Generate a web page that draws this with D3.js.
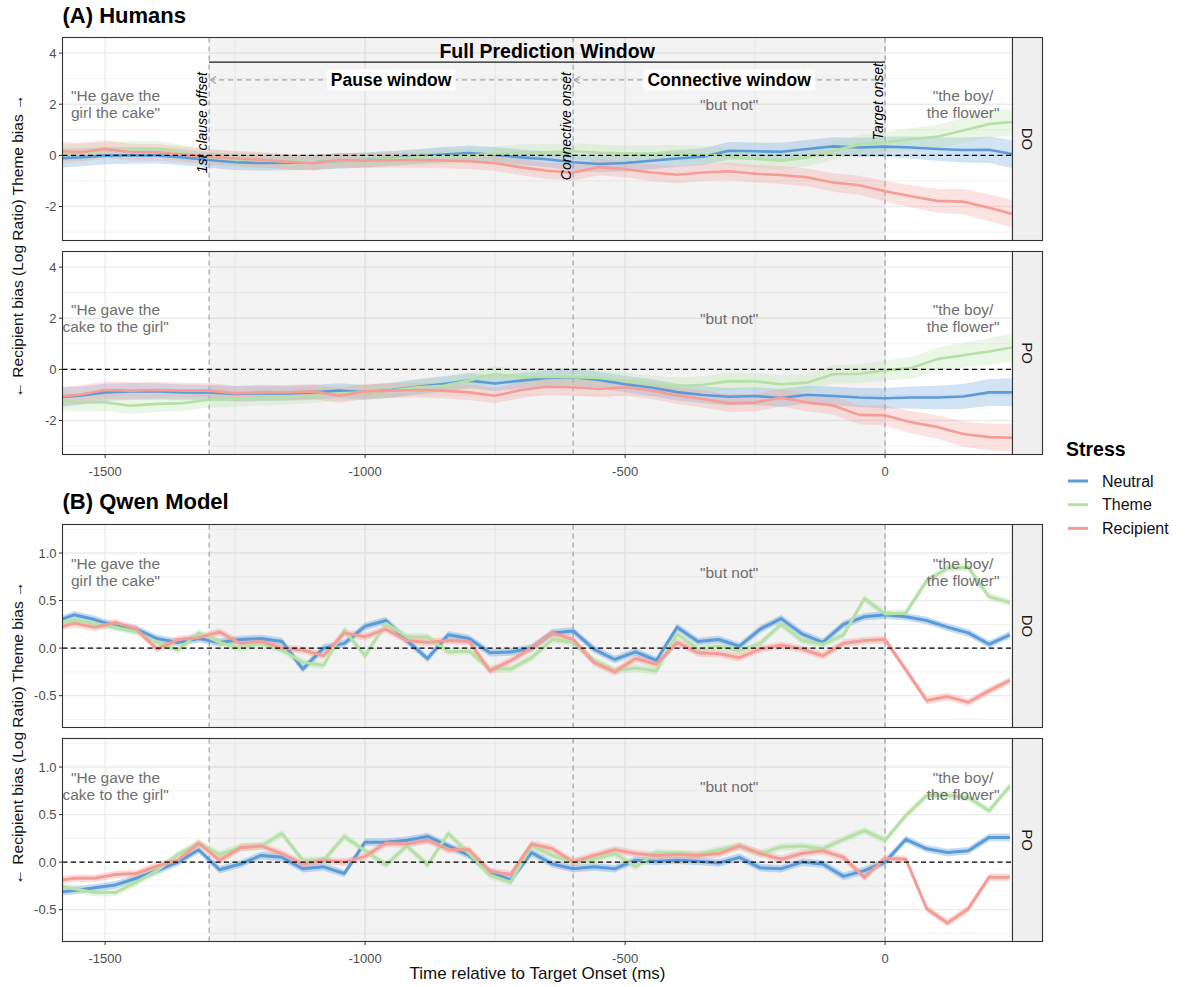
<!DOCTYPE html>
<html>
<head>
<meta charset="utf-8">
<script src="https://cdn.jsdelivr.net/npm/d3@7"></script>
<style>
  body { margin: 0; background: #fff; }
  text { font-family: "Liberation Sans", Arial, Helvetica, sans-serif; }
</style>
</head>
<body>
<svg id="chart" width="1186" height="987"></svg>
<script>
"use strict"

// ---- data ----
const stressLevels = ["Neutral", "Theme", "Recipient"];
const stressColors = ["#5B9BD9", "#B5E0A6", "#F59C95"];

const humanTime = [-1600,-1550,-1500,-1450,-1400,-1350,-1300,-1250,-1200,-1150,-1100,-1050,-1000,-950,-900,-850,-800,-750,-700,-650,
  -600,-550,-500,-450,-400,-350,-300,-250,-200,-150,-100,-50,0,50,100,150,200,250];

const humanDO_neutral = [-0.12,-0.08,-0.01,0.00,0.00,-0.08,-0.18,-0.27,-0.30,-0.29,-0.27,-0.22,-0.18,-0.12,-0.05,0.03,0.09,0.02,-0.08,-0.15,
  -0.27,-0.34,-0.30,-0.21,-0.12,-0.05,0.18,0.16,0.14,0.25,0.35,0.31,0.34,0.31,0.25,0.21,0.22,0.03];
const humanDO_theme = [0.03,0.10,0.18,0.22,0.25,0.10,-0.08,-0.15,-0.20,-0.24,-0.27,-0.22,-0.18,-0.13,-0.08,-0.04,-0.01,0.06,0.12,0.12,
  0.16,0.10,0.07,0.07,0.08,0.04,-0.05,-0.13,-0.21,-0.08,0.18,0.42,0.51,0.64,0.73,0.97,1.23,1.31];
const humanDO_recipient = [0.18,0.12,0.25,0.12,0.12,0.03,-0.05,-0.12,-0.17,-0.25,-0.31,-0.18,-0.20,-0.19,-0.18,-0.20,-0.23,-0.31,-0.47,-0.60,
  -0.67,-0.46,-0.54,-0.67,-0.76,-0.67,-0.62,-0.72,-0.77,-0.86,-1.06,-1.17,-1.40,-1.60,-1.78,-1.81,-2.05,-2.32];

const humanPO_neutral = [-1.10,-1.03,-0.90,-0.86,-0.86,-0.90,-0.90,-0.96,-0.94,-0.94,-0.90,-0.83,-0.90,-0.81,-0.68,-0.57,-0.44,-0.55,-0.44,-0.34,
  -0.31,-0.41,-0.58,-0.71,-0.89,-1.00,-1.07,-1.04,-1.12,-0.99,-1.04,-1.10,-1.13,-1.10,-1.10,-1.06,-0.90,-0.90];
const humanPO_theme = [-1.20,-1.29,-1.29,-1.42,-1.35,-1.32,-1.19,-1.16,-1.12,-1.09,-1.03,-0.94,-0.90,-0.83,-0.70,-0.64,-0.44,-0.18,-0.31,-0.29,
  -0.31,-0.34,-0.44,-0.57,-0.65,-0.60,-0.46,-0.47,-0.58,-0.52,-0.19,-0.17,-0.04,0.05,0.40,0.55,0.70,0.88];
const humanPO_recipient = [-1.08,-0.99,-0.81,-0.83,-0.81,-0.83,-0.83,-0.94,-0.90,-0.90,-0.86,-1.03,-0.86,-0.83,-0.81,-0.83,-0.90,-1.03,-0.81,-0.68,
  -0.70,-0.77,-0.70,-0.83,-1.02,-1.16,-1.33,-1.30,-1.10,-1.30,-1.41,-1.78,-1.80,-2.07,-2.25,-2.53,-2.65,-2.68];

// half width of the human confidence band
const ciHuman = [0.38,0.36,0.34,0.33,0.32,0.31,0.30,0.30,0.30,0.29,0.29,0.29,0.29,0.29,0.29,0.30,0.30,0.30,0.31,0.31,
  0.32,0.32,0.32,0.33,0.33,0.33,0.34,0.34,0.35,0.35,0.36,0.37,0.40,0.43,0.46,0.49,0.52,0.55];

const modelTime = [-1600,-1560,-1520,-1480,-1440,-1400,-1360,-1320,-1280,-1240,-1200,-1160,-1120,-1080,-1040,-1000,-960,-920,-880,-840,
  -800,-760,-720,-680,-640,-600,-560,-520,-480,-440,-400,-360,-320,-280,-240,-200,-160,-120,-80,-40,0,40,80,120,160,200,240];

const modelDO_neutral = [0.27,0.35,0.30,0.23,0.20,0.10,0.06,0.10,0.06,0.09,0.10,0.07,-0.22,0.00,0.05,0.23,0.29,0.08,-0.11,0.14,
  0.10,-0.05,-0.04,0.00,0.16,0.18,-0.01,-0.12,-0.04,-0.13,0.22,0.07,0.09,0.02,0.20,0.31,0.15,0.06,0.25,0.33,0.35,0.33,0.29,0.22,0.16,0.04,0.14];
const modelDO_theme = [0.25,0.29,0.26,0.22,0.17,0.06,-0.02,0.16,0.06,0.00,0.05,-0.02,-0.15,-0.18,0.19,-0.08,0.26,0.12,0.12,-0.04,
  -0.03,-0.22,-0.22,-0.10,0.09,0.06,-0.13,-0.24,-0.21,-0.24,0.15,-0.01,0.02,-0.03,0.05,0.25,0.08,0.04,0.14,0.52,0.36,0.37,0.71,0.84,0.85,0.54,0.48];
const modelDO_recipient = [0.20,0.26,0.22,0.27,0.20,-0.01,0.09,0.11,0.17,0.05,0.07,0.00,-0.02,-0.08,0.16,0.12,0.20,0.08,0.06,0.08,
  0.07,-0.24,-0.13,0.00,0.16,0.09,-0.15,-0.25,-0.11,-0.17,0.06,-0.05,-0.06,-0.10,-0.01,0.03,-0.01,-0.08,0.05,0.08,0.09,-0.23,-0.55,-0.51,-0.57,-0.45,-0.34];

const modelPO_neutral = [-0.32,-0.30,-0.27,-0.24,-0.17,-0.09,0.00,0.13,-0.08,-0.02,0.07,0.05,-0.07,-0.05,-0.12,0.21,0.21,0.23,0.27,0.17,
  0.07,-0.10,-0.19,0.10,-0.02,-0.07,-0.05,-0.07,0.02,0.01,0.02,0.01,-0.01,0.05,-0.06,-0.07,0.00,-0.02,-0.15,-0.09,0.00,0.24,0.14,0.10,0.12,0.26,0.26];
const modelPO_theme = [-0.24,-0.28,-0.32,-0.32,-0.21,-0.09,0.08,0.20,0.08,0.16,0.17,0.30,0.02,0.02,0.27,0.12,-0.03,0.17,-0.03,0.30,
  0.09,-0.14,-0.21,0.17,0.07,0.00,0.03,0.09,-0.05,0.10,0.09,0.08,0.13,0.17,0.09,0.16,0.17,0.14,0.24,0.33,0.23,0.49,0.70,0.70,0.68,0.54,0.80];
const modelPO_recipient = [-0.20,-0.17,-0.17,-0.13,-0.12,-0.04,0.02,0.20,0.02,0.15,0.17,0.09,-0.02,0.02,0.00,0.06,0.20,0.19,0.23,0.13,
  0.13,-0.10,-0.13,0.19,0.14,0.00,0.07,0.13,0.09,0.07,0.08,0.07,0.09,0.17,0.09,0.03,0.09,0.12,0.05,-0.16,0.04,0.03,-0.49,-0.64,-0.49,-0.16,-0.16];

const ciModel = 0.04;

const xTicks = [-1500, -1000, -500, 0];
const xMinor = [-1250, -750, -250];
const yTicksHuman = [-2, 0, 2, 4];
const yMinorHuman = [-3, -1, 1, 3];
const yTicksModel = [-0.5, 0, 0.5, 1.0];
const yMinorModel = [-0.75, -0.25, 0.25, 0.75, 1.25];

const eventTimes = [-1300, -600, 0];
const eventLabels = ["1st clause offset", "Connective onset", "Target onset"];
const sentenceStartDO = ["\"He gave the", "girl the cake\""];
const sentenceStartPO = ["\"He gave the", "cake to the girl\""];
const sentenceMid = ["\"but not\""];
const sentenceEnd = ["\"the boy/", "the flower\""];

// ---- layout ----
const svg = d3.select("#chart");
const panelLeft = 62.5, panelRight = 1012.5, stripW = 30, panelH = 203;

const x = d3.scaleLinear().domain([-1582, 245]).range([panelLeft, panelRight]);

const panels = [
  { id: "aDO", cons: "DO", top: 37.5, dom: [-3.33, 4.61], time: humanTime, ci: ciHuman,
    series: [humanDO_neutral, humanDO_theme, humanDO_recipient], ticks: yTicksHuman, minor: yMinorHuman,
    textY: 2, start: sentenceStartDO, header: true, xaxis: false, lw: 2.6 },
  { id: "aPO", cons: "PO", top: 251.5, dom: [-3.33, 4.61], time: humanTime, ci: ciHuman,
    series: [humanPO_neutral, humanPO_theme, humanPO_recipient], ticks: yTicksHuman, minor: yMinorHuman,
    textY: 2, start: sentenceStartPO, header: false, xaxis: true, lw: 2.6 },
  { id: "bDO", cons: "DO", top: 524.5, dom: [-0.835, 1.30], time: modelTime, ci: null,
    series: [modelDO_neutral, modelDO_theme, modelDO_recipient], ticks: yTicksModel, minor: yMinorModel,
    textY: 0.8, start: sentenceStartDO, header: false, xaxis: false, lw: 3 },
  { id: "bPO", cons: "PO", top: 738.5, dom: [-0.835, 1.30], time: modelTime, ci: null,
    series: [modelPO_neutral, modelPO_theme, modelPO_recipient], ticks: yTicksModel, minor: yMinorModel,
    textY: 0.8, start: sentenceStartPO, header: false, xaxis: true, lw: 3 }
];

function fmtTick(v, model) {
  return model ? v.toFixed(1) : String(v);
}

function drawPanel(p) {
  let y = d3.scaleLinear().domain(p.dom).range([p.top + panelH, p.top]);
  let model = p.ci === null;
  let g = svg.append("g");

  g.append("clipPath").attr("id", "clip-" + p.id)
    .append("rect").attr("x", panelLeft).attr("y", p.top)
    .attr("width", panelRight - panelLeft).attr("height", panelH);

  g.append("rect").attr("x", panelLeft).attr("y", p.top)
    .attr("width", panelRight - panelLeft).attr("height", panelH).attr("fill", "#fff");

  let inner = g.append("g").attr("clip-path", "url(#clip-" + p.id + ")");

  // grid
  inner.selectAll(".ymin").data(p.minor).join("line")
    .attr("x1", panelLeft).attr("x2", panelRight).attr("y1", d => y(d)).attr("y2", d => y(d))
    .attr("stroke", "#ebebeb").attr("stroke-width", 0.7);
  inner.selectAll(".xmin").data(xMinor).join("line")
    .attr("x1", d => x(d)).attr("x2", d => x(d)).attr("y1", p.top).attr("y2", p.top + panelH)
    .attr("stroke", "#ebebeb").attr("stroke-width", 0.7);
  inner.selectAll(".ymaj").data(p.ticks).join("line")
    .attr("x1", panelLeft).attr("x2", panelRight).attr("y1", d => y(d)).attr("y2", d => y(d))
    .attr("stroke", "#ebebeb").attr("stroke-width", 1.3);
  inner.selectAll(".xmaj").data(xTicks).join("line")
    .attr("x1", d => x(d)).attr("x2", d => x(d)).attr("y1", p.top).attr("y2", p.top + panelH)
    .attr("stroke", "#ebebeb").attr("stroke-width", 1.3);

  // prediction window shading
  inner.append("rect").attr("x", x(-1300)).attr("y", p.top)
    .attr("width", x(0) - x(-1300)).attr("height", panelH)
    .attr("fill", "#7f7f7f").attr("fill-opacity", 0.09);

  inner.selectAll(".ev").data(eventTimes).join("line")
    .attr("x1", d => x(d)).attr("x2", d => x(d)).attr("y1", p.top).attr("y2", p.top + panelH)
    .attr("stroke", "#9a9a9a").attr("stroke-width", 1.1).attr("stroke-dasharray", "5,4");

  // ribbons and lines
  p.series.forEach(function(vals, i) {
    let pts = p.time.map((t, k) => ({ t: t, v: vals[k], c: model ? ciModel : p.ci[k] }));
    let area = d3.area().x(d => x(d.t)).y0(d => y(d.v - d.c)).y1(d => y(d.v + d.c));
    inner.append("path").attr("d", area(pts))
      .attr("fill", stressColors[i]).attr("fill-opacity", model ? 0.35 : 0.28);
  });
  p.series.forEach(function(vals, i) {
    let pts = p.time.map((t, k) => ({ t: t, v: vals[k] }));
    let line = d3.line().x(d => x(d.t)).y(d => y(d.v));
    inner.append("path").attr("d", line(pts))
      .attr("fill", "none").attr("stroke", stressColors[i])
      .attr("stroke-width", p.lw).attr("stroke-linejoin", "round");
  });

  inner.append("line").attr("x1", panelLeft).attr("x2", panelRight)
    .attr("y1", y(0)).attr("y2", y(0))
    .attr("stroke", "#000").attr("stroke-width", 1.3).attr("stroke-dasharray", "5,3.5");

  // sentence fragments
  function block(lines, t) {
    let tx = g.append("text").attr("x", x(t)).attr("text-anchor", "middle")
      .attr("fill", "#6f6f6f").style("font-size", "15.5px");
    let n = lines.length;
    lines.forEach(function(s, k) {
      tx.append("tspan").attr("x", x(t))
        .attr("y", y(p.textY) + (k - (n - 1) / 2) * 16.5)
        .attr("dominant-baseline", "central").text(s);
    });
  }
  block(p.start, -1480);
  block(sentenceMid, -300);
  block(sentenceEnd, 150);

  if (p.header) drawHeader(g, y);

  // border + strip
  g.append("rect").attr("x", panelLeft).attr("y", p.top)
    .attr("width", panelRight - panelLeft).attr("height", panelH)
    .attr("fill", "none").attr("stroke", "#333").attr("stroke-width", 1.1);
  g.append("rect").attr("x", panelRight).attr("y", p.top)
    .attr("width", stripW).attr("height", panelH)
    .attr("fill", "#f0f0f0").attr("stroke", "#333").attr("stroke-width", 1.1);
  g.append("text")
    .attr("transform", "translate(" + (panelRight + stripW / 2) + "," + (p.top + panelH / 2) + ") rotate(90)")
    .attr("text-anchor", "middle").attr("dominant-baseline", "central")
    .attr("fill", "#1a1a1a").style("font-size", "15px").text(p.cons);

  // y axis
  g.selectAll(".yt").data(p.ticks).join("line")
    .attr("x1", panelLeft - 3.5).attr("x2", panelLeft).attr("y1", d => y(d)).attr("y2", d => y(d))
    .attr("stroke", "#333").attr("stroke-width", 1);
  g.selectAll(".yl").data(p.ticks).join("text")
    .attr("x", panelLeft - 6).attr("y", d => y(d)).attr("text-anchor", "end")
    .attr("dominant-baseline", "central").attr("fill", "#4d4d4d").style("font-size", "13px")
    .text(d => fmtTick(d, model));

  if (p.xaxis) {
    let bottom = p.top + panelH;
    g.selectAll(".xt").data(xTicks).join("line")
      .attr("x1", d => x(d)).attr("x2", d => x(d)).attr("y1", bottom).attr("y2", bottom + 3.5)
      .attr("stroke", "#333").attr("stroke-width", 1);
    g.selectAll(".xl").data(xTicks).join("text")
      .attr("x", d => x(d)).attr("y", bottom + 21.5).attr("text-anchor", "middle")
      .attr("fill", "#4d4d4d").style("font-size", "13px").text(d => String(d));
  }
}

function drawHeader(g, y) {
  let yFull = y(3.65), yArrow = y(2.95);

  g.append("line").attr("x1", x(-1300)).attr("x2", x(0)).attr("y1", yFull).attr("y2", yFull)
    .attr("stroke", "#1a1a1a").attr("stroke-width", 1.3);
  g.append("text").attr("x", x(-650)).attr("y", yFull - 4).attr("text-anchor", "middle")
    .style("font-size", "19.5px").style("font-weight", "bold").attr("fill", "#000")
    .text("Full Prediction Window");

  let windows = [[-1300, -600, "Pause window"], [-600, 0, "Connective window"]];
  windows.forEach(function(w) {
    let x0 = x(w[0]) + 1, x1 = x(w[1]) - 1;
    g.append("line").attr("x1", x0).attr("x2", x1).attr("y1", yArrow).attr("y2", yArrow)
      .attr("stroke", "#a6a6a6").attr("stroke-width", 1.2).attr("stroke-dasharray", "5,4");
    g.append("path").attr("d", "M" + (x0 + 6) + "," + (yArrow - 3.5) + "L" + x0 + "," + yArrow + "L" + (x0 + 6) + "," + (yArrow + 3.5))
      .attr("fill", "none").attr("stroke", "#a6a6a6").attr("stroke-width", 1.2);
    let cx = (x(w[0]) + x(w[1])) / 2;
    let lab = g.append("g");
    let box = lab.append("rect").attr("fill", "#fff").attr("rx", 3);
    let t = lab.append("text").attr("x", cx).attr("y", yArrow).attr("text-anchor", "middle")
      .attr("dominant-baseline", "central").style("font-size", "17.5px").style("font-weight", "bold")
      .attr("fill", "#000").text(w[2]);
    let bb = t.node().getBBox();
    box.attr("x", bb.x - 4).attr("y", yArrow - 10.5).attr("width", bb.width + 8).attr("height", 21);
  });

  let tops = [72, 72, 63];
  eventTimes.forEach(function(t, i) {
    g.append("text")
      .attr("transform", "translate(" + (x(t) - 2.5) + "," + tops[i] + ") rotate(-90)")
      .attr("text-anchor", "end").style("font-size", "14px").style("font-style", "italic")
      .attr("fill", "#000").text(eventLabels[i]);
  });
}

panels.forEach(drawPanel);

// section titles
svg.append("text").attr("x", panelLeft).attr("y", 23).style("font-size", "22px")
  .style("font-weight", "bold").text("(A) Humans");
svg.append("text").attr("x", panelLeft).attr("y", 509).style("font-size", "22px")
  .style("font-weight", "bold").text("(B) Qwen Model");

// axis titles
let yTitle = "\u2190 Recipient bias (Log Ratio) Theme bias \u2192";
[246, 733].forEach(function(cy) {
  svg.append("text").attr("transform", "translate(17," + cy + ") rotate(-90)")
    .attr("text-anchor", "middle").attr("dominant-baseline", "central")
    .style("font-size", "15.5px").attr("fill", "#111").text(yTitle);
});
svg.append("text").attr("x", (panelLeft + panelRight) / 2).attr("y", 979)
  .attr("text-anchor", "middle").style("font-size", "17px").attr("fill", "#111")
  .text("Time relative to Target Onset (ms)");

// legend
let legend = svg.append("g");
legend.append("text").attr("x", 1066).attr("y", 456).style("font-size", "19.5px")
  .style("font-weight", "bold").text("Stress");
stressLevels.forEach(function(s, i) {
  let ly = 481 + i * 23.7;
  legend.append("line").attr("x1", 1068).attr("x2", 1088).attr("y1", ly).attr("y2", ly)
    .attr("stroke", stressColors[i]).attr("stroke-width", 3);
  legend.append("text").attr("x", 1102).attr("y", ly).attr("dominant-baseline", "central")
    .style("font-size", "16px").attr("fill", "#111").text(s);
});
</script>
</body>
</html>
